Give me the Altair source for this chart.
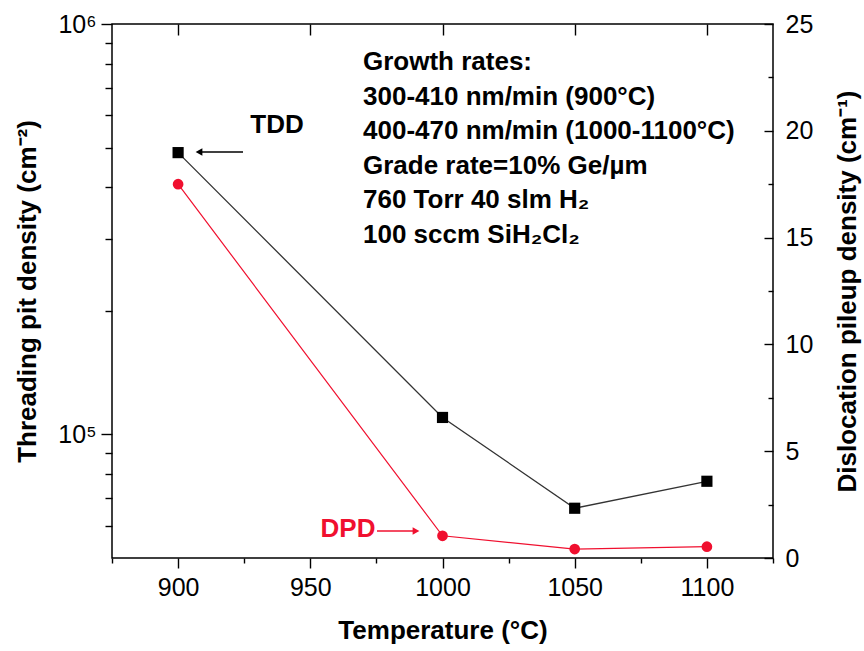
import altair as alt
import pandas as pd

# ---- data ----
temperature = [900, 1000, 1050, 1100]
tdd = [486000, 110000, 66100, 76900]          # threading pit density, cm^-2 (left, log)
dpd = [17.5, 1.04, 0.42, 0.53]                 # dislocation pileup density, cm^-1 (right)

x_major = [900, 950, 1000, 1050, 1100]
x_minor = [875, 925, 975, 1025, 1075, 1125]
left_major = [100000, 1000000]
left_minor = [60000, 70000, 80000, 90000, 200000, 300000, 400000, 500000,
              600000, 700000, 800000, 900000]
right_major = [0, 5, 10, 15, 20, 25]
right_minor = [2.5, 7.5, 12.5, 17.5, 22.5]

annotation_lines = [
    "Growth rates:",
    "300-410 nm/min (900°C)",
    "400-470 nm/min (1000-1100°C)",
    "Grade rate=10% Ge/µm",
    "760 Torr 40 slm H₂",
    "100 sccm SiH₂Cl₂",
]

df = pd.DataFrame({"T": temperature, "TDD": tdd, "DPD": dpd})
one = pd.DataFrame({"a": [0]})

W, H = 661, 534
FONT = "Liberation Sans"
RED = "#f0102f"

xs = alt.Scale(domain=[875, 1125], nice=False, zero=False)
ys_log = alt.Scale(type="log", domain=[50000, 1000000], nice=False)
ys_lin = alt.Scale(domain=[0, 25], nice=False, zero=False)

common = dict(domain=False, grid=False, tickColor="black", tickWidth=1.4,
              labelFont=FONT, labelColor="black", labelFlush=False,
              labelOverlap=False, titleFont=FONT, titleColor="black")

bottom_major = alt.Axis(orient="bottom", values=x_major, tickSize=10,
                        labelFontSize=25, labelPadding=7, format="d",
                        title="Temperature (°C)", titleFontSize=26,
                        titleFontWeight="bold", titleX=W / 2, titleY=80,
                        titleBaseline="alphabetic", titleAlign="center", **common)
left_major_axis = alt.Axis(orient="left", values=left_major, tickSize=11,
                           labelFontSize=25, labelPadding=5,
                           labelExpr="datum.value > 500000 ? '10⁶' : '10⁵'",
                           title="Threading pit density (cm⁻²)", titleFontSize=26,
                           titleFontWeight="bold", titleAngle=270, titleX=-77,
                           titleY=H / 2, titleBaseline="alphabetic",
                           titleAlign="center", **common)
top_axis = alt.Axis(orient="top", values=x_major, tickSize=11, offset=-11,
                    labels=False, title=None, **common)
left_minor_axis = alt.Axis(orient="left", values=left_minor, tickSize=7,
                           labels=False, title=None, **common)
bottom_minor = alt.Axis(orient="bottom", values=x_minor, tickSize=5,
                        labels=False, title=None, **common)
right_major_axis = alt.Axis(orient="right", values=right_major, offset=-9,
                            tickSize=9, labelPadding=12, labelFontSize=25,
                            title="Dislocation pileup density (cm⁻¹)",
                            titleFontSize=26, titleFontWeight="bold",
                            titleAngle=270, titleX=91, titleY=H / 2,
                            titleBaseline="alphabetic", titleAlign="center",
                            **common)
right_minor_axis = alt.Axis(orient="right", values=right_minor, offset=-5,
                            tickSize=5, labels=False, title=None, **common)

base = alt.Chart(df)

tdd_layer = base.mark_line(
    color="#333333", strokeWidth=1.3,
    point=alt.OverlayMarkDef(shape="square", filled=True, size=125,
                             color="black", opacity=1),
).encode(
    x=alt.X("T:Q", scale=xs, axis=bottom_major),
    y=alt.Y("TDD:Q", scale=ys_log, axis=left_major_axis),
)

tdd_minor = base.mark_point(opacity=0).encode(
    x=alt.X("T:Q", scale=xs, axis=top_axis),
    y=alt.Y("TDD:Q", scale=ys_log, axis=left_minor_axis),
)

dpd_layer = base.mark_line(
    color=RED, strokeWidth=1.2,
    point=alt.OverlayMarkDef(shape="circle", filled=True, size=115,
                             color=RED, opacity=1),
).encode(
    x=alt.X("T:Q", scale=xs, axis=bottom_minor),
    y=alt.Y("DPD:Q", scale=ys_lin, axis=right_major_axis),
)

dpd_minor = base.mark_point(opacity=0).encode(
    x=alt.X("T:Q", scale=xs, axis=None),
    y=alt.Y("DPD:Q", scale=ys_lin, axis=right_minor_axis),
)

ann = alt.Chart(pd.DataFrame({"txt": ["\n".join(annotation_lines)]})).mark_text(
    font=FONT, fontSize=26, fontWeight="bold", align="left",
    baseline="alphabetic", lineBreak="\n", lineHeight=34.6, color="black",
).encode(x=alt.value(251), y=alt.value(46), text="txt:N")

tdd_lab = alt.Chart(one).mark_text(
    font=FONT, fontSize=26, fontWeight="bold", align="center",
    baseline="alphabetic", color="black", text="TDD",
).encode(x=alt.value(165), y=alt.value(109))

tdd_arrow = alt.Chart(one).mark_rule(color="black", strokeWidth=1.3).encode(
    x=alt.value(131), x2=alt.value(88), y=alt.value(128))
tdd_head = alt.Chart(one).mark_point(
    shape="triangle-left", filled=True, size=60, color="black", opacity=1,
).encode(x=alt.value(87), y=alt.value(128))

dpd_lab = alt.Chart(one).mark_text(
    font=FONT, fontSize=26, fontWeight="bold", align="center",
    baseline="alphabetic", color=RED, text="DPD",
).encode(x=alt.value(236), y=alt.value(513))

dpd_arrow = alt.Chart(one).mark_rule(color=RED, strokeWidth=1.3).encode(
    x=alt.value(265), x2=alt.value(301), y=alt.value(507))
dpd_head = alt.Chart(one).mark_point(
    shape="triangle-right", filled=True, size=60, color=RED, opacity=1,
).encode(x=alt.value(304), y=alt.value(507))

chart = alt.layer(
    tdd_minor, dpd_minor, tdd_layer, dpd_layer, ann,
    tdd_arrow, tdd_head, tdd_lab, dpd_arrow, dpd_head, dpd_lab,
).resolve_scale(
    x="independent", y="independent"
).properties(
    width=W, height=H,
    autosize=alt.AutoSizeParams(type="none"),
    padding={"left": 112, "top": 24, "right": 91, "bottom": 93},
    background="white",
).configure_view(
    stroke="black", strokeWidth=1.5
)

chart.save("out.html", embed_options={"renderer": "svg", "actions": False})
